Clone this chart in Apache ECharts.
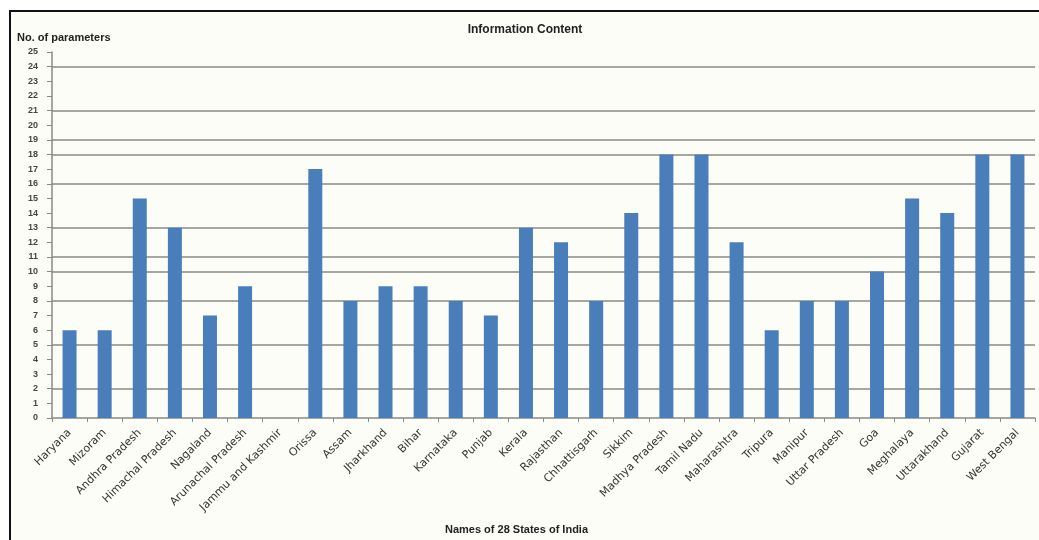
<!DOCTYPE html>
<html>
<head>
<meta charset="utf-8">
<script src="https://cdn.jsdelivr.net/npm/echarts@6/dist/echarts.min.js"></script>
<style>
  html, body { margin: 0; padding: 0; background: #fff; }
  #frame {
    position: absolute; left: 9px; top: 10px; width: 1030px; height: 530px;
    border-top: 2px solid #111; border-left: 2px solid #111; background: #fdfdf7;
  }
  #chart { position: absolute; left: 0; top: 0; width: 1039px; height: 540px; }
</style>
</head>
<body>
<div id="frame"></div>
<div id="chart"></div>
<script>
  var states = ['Haryana', 'Mizoram', 'Andhra Pradesh', 'Himachal Pradesh', 'Nagaland',
    'Arunachal Pradesh', 'Jammu and Kashmir', 'Orissa', 'Assam', 'Jharkhand', 'Bihar',
    'Karnataka', 'Punjab', 'Kerala', 'Rajasthan', 'Chhattisgarh', 'Sikkim', 'Madhya Pradesh',
    'Tamil Nadu', 'Maharashtra', 'Tripura', 'Manipur', 'Uttar Pradesh', 'Goa', 'Meghalaya',
    'Uttarakhand', 'Gujarat', 'West Bengal']
  var params = [6, 6, 15, 13, 7, 9, 0, 17, 8, 9, 9, 8, 7, 13, 12, 8, 14, 18, 18, 12, 6, 8, 8, 10, 15, 14, 18, 18]
  // horizontal lines that show in the scanned picture
  var gridValues = [24, 21, 19, 18, 16, 13, 11, 10, 8, 5, 2]

  var myChart = echarts.init(document.getElementById('chart'))
  myChart.setOption({
    animation: false,
    title: {
      text: 'Information Content',
      left: 520,
      top: 19,
      textAlign: 'center',
      textStyle: { fontFamily: 'Liberation Sans', fontSize: 12, fontWeight: 'bold', color: '#222' }
    },
    graphic: [
      {
        type: 'text', left: 17, top: 32,
        style: { text: 'No. of parameters', font: 'bold 11px "Liberation Sans"', fill: '#222' }
      }
    ],
    grid: { left: 52, right: 4, top: 52, bottom: 121 },
    xAxis: {
      type: 'category',
      data: states,
      name: 'Names of 28 States of India',
      nameLocation: 'middle',
      nameGap: 106,
      nameTextStyle: { fontFamily: 'Liberation Sans', fontSize: 11, fontWeight: 'bold', color: '#222', padding: [0, 54, 0, 0] },
      axisLine: { lineStyle: { color: '#888', width: 1.5 } },
      axisTick: { show: true, length: 4, lineStyle: { color: '#888' } },
      axisLabel: { interval: 0, rotate: 45, margin: 13, fontFamily: 'DejaVu Sans', fontSize: 11, color: '#333' }
    },
    yAxis: {
      type: 'value',
      min: 0,
      max: 25,
      interval: 1,
      axisLine: { show: true, lineStyle: { color: '#888', width: 1.5 } },
      axisTick: { show: true, length: 5, lineStyle: { color: '#888' } },
      splitLine: { show: false },
      axisLabel: { fontFamily: 'Liberation Sans', fontSize: 9, fontWeight: 'bold', color: '#444', margin: 14 }
    },
    series: [
      {
        type: 'bar',
        data: params,
        barWidth: 14,
        itemStyle: { color: '#4a7ebb' },
        markLine: {
          silent: true,
          symbol: 'none',
          label: { show: false },
          lineStyle: { color: '#8a8a86', width: 1.5, type: 'solid' },
          z: 1,
          data: gridValues.map(function (v) { return { yAxis: v } })
        }
      }
    ]
  })
</script>
</body>
</html>
